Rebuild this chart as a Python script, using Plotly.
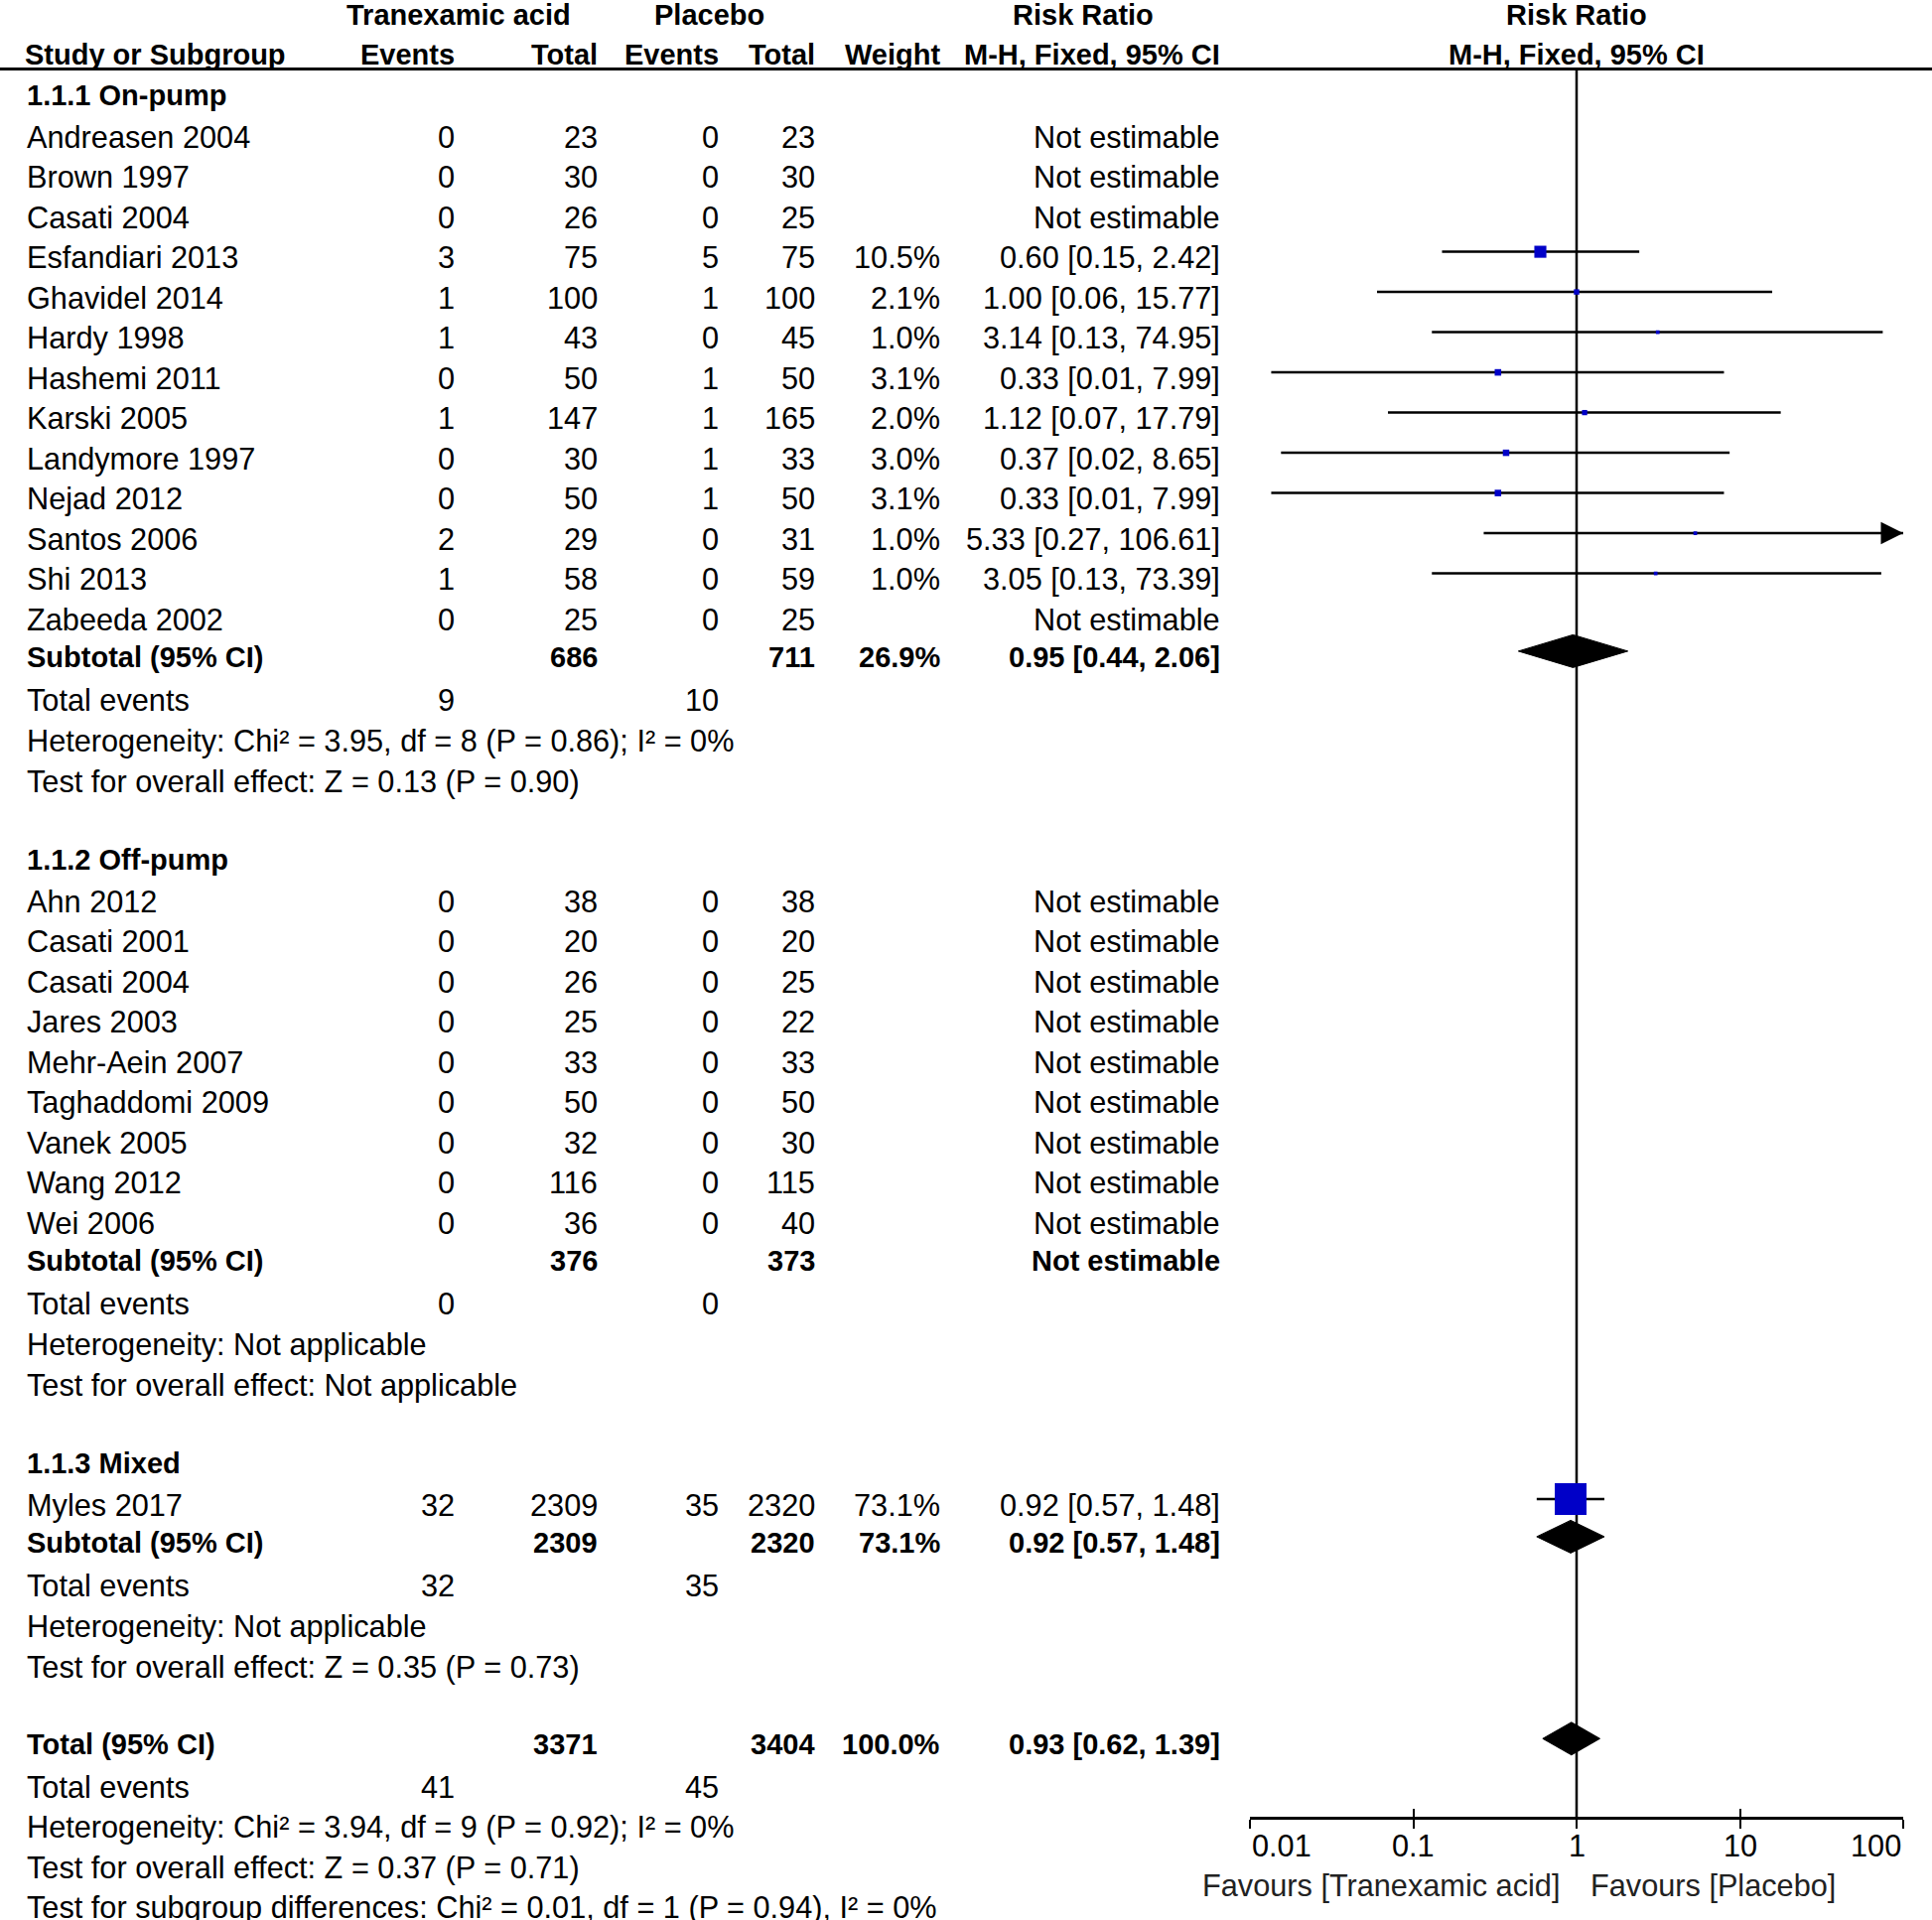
import math
import plotly.graph_objects as go

# ---------------- data ----------------
g1_title = "1.1.1 On-pump"
g1_studies = ["Andreasen 2004", "Brown 1997", "Casati 2004", "Esfandiari 2013", "Ghavidel 2014",
              "Hardy 1998", "Hashemi 2011", "Karski 2005", "Landymore 1997", "Nejad 2012",
              "Santos 2006", "Shi 2013", "Zabeeda 2002"]
g1_txa_events = [0, 0, 0, 3, 1, 1, 0, 1, 0, 0, 2, 1, 0]
g1_txa_total = [23, 30, 26, 75, 100, 43, 50, 147, 30, 50, 29, 58, 25]
g1_pl_events = [0, 0, 0, 5, 1, 0, 1, 1, 1, 1, 0, 0, 0]
g1_pl_total = [23, 30, 25, 75, 100, 45, 50, 165, 33, 50, 31, 59, 25]
g1_weight = [None, None, None, 10.5, 2.1, 1.0, 3.1, 2.0, 3.0, 3.1, 1.0, 1.0, None]
g1_rr = [None, None, None, 0.60, 1.00, 3.14, 0.33, 1.12, 0.37, 0.33, 5.33, 3.05, None]
g1_lo = [None, None, None, 0.15, 0.06, 0.13, 0.0135, 0.07, 0.0155, 0.0135, 0.27, 0.13, None]
g1_hi = [None, None, None, 2.42, 15.77, 74.95, 7.99, 17.79, 8.65, 7.99, 106.61, 73.39, None]
g1_sub_totals = [686, 711]
g1_sub_weight = 26.9
g1_sub_est = [0.95, 0.44, 2.06]
g1_events = [9, 10]
g1_het = "Heterogeneity: Chi² = 3.95, df = 8 (P = 0.86); I² = 0%"
g1_test = "Test for overall effect: Z = 0.13 (P = 0.90)"

g2_title = "1.1.2 Off-pump"
g2_studies = ["Ahn 2012", "Casati 2001", "Casati 2004", "Jares 2003", "Mehr-Aein 2007",
              "Taghaddomi 2009", "Vanek 2005", "Wang 2012", "Wei 2006"]
g2_txa_events = [0, 0, 0, 0, 0, 0, 0, 0, 0]
g2_txa_total = [38, 20, 26, 25, 33, 50, 32, 116, 36]
g2_pl_events = [0, 0, 0, 0, 0, 0, 0, 0, 0]
g2_pl_total = [38, 20, 25, 22, 33, 50, 30, 115, 40]
g2_weight = [None] * 9
g2_rr = [None] * 9
g2_lo = [None] * 9
g2_hi = [None] * 9
g2_sub_totals = [376, 373]
g2_sub_weight = None
g2_sub_est = None
g2_events = [0, 0]
g2_het = "Heterogeneity: Not applicable"
g2_test = "Test for overall effect: Not applicable"

g3_title = "1.1.3 Mixed"
g3_studies = ["Myles 2017"]
g3_txa_events = [32]
g3_txa_total = [2309]
g3_pl_events = [35]
g3_pl_total = [2320]
g3_weight = [73.1]
g3_rr = [0.92]
g3_lo = [0.57]
g3_hi = [1.48]
g3_sub_totals = [2309, 2320]
g3_sub_weight = 73.1
g3_sub_est = [0.92, 0.57, 1.48]
g3_events = [32, 35]
g3_het = "Heterogeneity: Not applicable"
g3_test = "Test for overall effect: Z = 0.35 (P = 0.73)"

total_totals = [3371, 3404]
total_weight = 100.0
total_est = [0.93, 0.62, 1.39]
total_events = [41, 45]
total_het = "Heterogeneity: Chi² = 3.94, df = 9 (P = 0.92); I² = 0%"
total_test = "Test for overall effect: Z = 0.37 (P = 0.71)"
subgroup_test = "Test for subgroup differences: Chi² = 0.01, df = 1 (P = 0.94), I² = 0%"

axis_ticks = [0.01, 0.1, 1, 10, 100]
axis_ticktext = ["0.01", "0.1", "1", "10", "100"]
favours_left = "Favours [Tranexamic acid]"
favours_right = "Favours [Placebo]"

groups = [
    dict(title=g1_title, studies=g1_studies, te=g1_txa_events, tt=g1_txa_total, pe=g1_pl_events,
         pt=g1_pl_total, w=g1_weight, rr=g1_rr, lo=g1_lo, hi=g1_hi, sub=g1_sub_totals,
         sw=g1_sub_weight, se=g1_sub_est, ev=g1_events, het=g1_het, test=g1_test),
    dict(title=g2_title, studies=g2_studies, te=g2_txa_events, tt=g2_txa_total, pe=g2_pl_events,
         pt=g2_pl_total, w=g2_weight, rr=g2_rr, lo=g2_lo, hi=g2_hi, sub=g2_sub_totals,
         sw=g2_sub_weight, se=g2_sub_est, ev=g2_events, het=g2_het, test=g2_test),
    dict(title=g3_title, studies=g3_studies, te=g3_txa_events, tt=g3_txa_total, pe=g3_pl_events,
         pt=g3_pl_total, w=g3_weight, rr=g3_rr, lo=g3_lo, hi=g3_hi, sub=g3_sub_totals,
         sw=g3_sub_weight, se=g3_sub_est, ev=g3_events, het=g3_het, test=g3_test),
]

# ---------------- layout constants ----------------
W, H = 1946, 1934
FONT = "Liberation Sans, Arial, sans-serif"
REG = 30.7
BOLD = 29
BLUE = "#0000C8"

COL_NAME = 24.5
COL_TE, COL_TT, COL_PE, COL_PT, COL_W, COL_RR = 460, 604, 726, 823, 949, 1231
TXA_CENTER, PL_CENTER, RR_CENTER = 462, 714, 1091

FOREST_L, FOREST_R = 1259, 1917
AXIS_Y = 1831
HEAD1_Y, HEAD2_Y, RULE_Y = 15, 54.6, 69.5
MARK_DY = -6
DIAMOND_H = 33
SQ_K = 3.74

anns = []


def txt(x, y, s, anchor="left", bold=False, color="#000000"):
    anns.append(dict(xref="x", yref="y", x=x, y=y, text=f"<b>{s}</b>" if bold else s,
                     xanchor=anchor, yanchor="middle", showarrow=False,
                     font=dict(family=FONT, size=BOLD if bold else REG, color=color)))


def fmt_est(e):
    return f"{e[0]:.2f} [{e[1]:.2f}, {e[2]:.2f}]"


# headers
txt(TXA_CENTER, HEAD1_Y, "Tranexamic acid", "center", True)
txt(PL_CENTER, HEAD1_Y, "Placebo", "center", True)
txt(RR_CENTER, HEAD1_Y, "Risk Ratio", "center", True)
txt(COL_NAME - 2, HEAD2_Y, "Study or Subgroup", "left", True)
txt(COL_TE, HEAD2_Y, "Events", "right", True)
txt(COL_TT, HEAD2_Y, "Total", "right", True)
txt(COL_PE, HEAD2_Y, "Events", "right", True)
txt(COL_PT, HEAD2_Y, "Total", "right", True)
txt(COL_W, HEAD2_Y, "Weight", "right", True)
txt(COL_RR, HEAD2_Y, "M-H, Fixed, 95% CI", "right", True)
for yy, s in [(HEAD1_Y, "Risk Ratio"), (HEAD2_Y, "M-H, Fixed, 95% CI")]:
    anns.append(dict(xref="x2", yref="y", x=0, y=yy, text=f"<b>{s}</b>", xanchor="center",
                     yanchor="middle", showarrow=False, font=dict(family=FONT, size=BOLD, color="#000")))

ci_x, ci_y = [], []
sq_x, sq_y, sq_s = [], [], []
diamonds = []
arrow_rows = []
x_max = max(axis_ticks)

y = 95.6
for gi, g in enumerate(groups):
    txt(COL_NAME, y, g["title"], bold=True)
    y += 42.5
    for i, name in enumerate(g["studies"]):
        if i > 0:
            y += 40.5
        txt(COL_NAME, y, name)
        txt(COL_TE, y, str(g["te"][i]), "right")
        txt(COL_TT, y, str(g["tt"][i]), "right")
        txt(COL_PE, y, str(g["pe"][i]), "right")
        txt(COL_PT, y, str(g["pt"][i]), "right")
        if g["rr"][i] is None:
            txt(COL_RR, y, "Not estimable", "right")
        else:
            txt(COL_W, y, f"{g['w'][i]:.1f}%", "right")
            txt(COL_RR, y, fmt_est([g["rr"][i], g["lo"][i], g["hi"][i]]), "right")
            my = y + MARK_DY
            ci_x += [g["lo"][i], g["hi"][i], None]
            ci_y += [my, my, None]
            sq_x.append(g["rr"][i])
            sq_y.append(my)
            sq_s.append(max(3.0, SQ_K * math.sqrt(g["w"][i])))
            if g["hi"][i] > x_max:
                arrow_rows.append(my)
    y += 37.8
    txt(COL_NAME, y, "Subtotal (95% CI)", bold=True)
    txt(COL_TT, y, str(g["sub"][0]), "right", True)
    txt(COL_PT, y, str(g["sub"][1]), "right", True)
    if g["se"] is None:
        txt(COL_RR, y, "Not estimable", "right", True)
    else:
        txt(COL_W, y, f"{g['sw']:.1f}%", "right", True)
        txt(COL_RR, y, fmt_est(g["se"]), "right", True)
        diamonds.append((g["se"], y + MARK_DY))
    y += 44
    txt(COL_NAME, y, "Total events")
    txt(COL_TE, y, str(g["ev"][0]), "right")
    txt(COL_PE, y, str(g["ev"][1]), "right")
    y += 40.2
    txt(COL_NAME, y, g["het"])
    y += 41
    txt(COL_NAME, y, g["test"])
    if gi < len(groups) - 1:
        y += 78.5

y += 78.2
txt(COL_NAME, y, "Total (95% CI)", bold=True)
txt(COL_TT, y, str(total_totals[0]), "right", True)
txt(COL_PT, y, str(total_totals[1]), "right", True)
txt(COL_W, y, f"{total_weight:.1f}%", "right", True)
txt(COL_RR, y, fmt_est(total_est), "right", True)
diamonds.append((total_est, y + MARK_DY))
y += 43.6
txt(COL_NAME, y, "Total events")
txt(COL_TE, y, str(total_events[0]), "right")
txt(COL_PE, y, str(total_events[1]), "right")
y += 39.6
txt(COL_NAME, y, total_het)
y += 41
txt(COL_NAME, y, total_test)
y += 39.7
txt(COL_NAME, y, subgroup_test)

# ---------------- traces ----------------
fig = go.Figure()
# reference line at RR = 1
fig.add_trace(go.Scatter(x=[1, 1], y=[RULE_Y, AXIS_Y], xaxis="x2", yaxis="y", mode="lines",
                         line=dict(color="#000", width=2.5), hoverinfo="skip"))
fig.add_trace(go.Scatter(x=ci_x, y=ci_y, xaxis="x2", yaxis="y", mode="lines",
                         line=dict(color="#000", width=2.5), hoverinfo="skip"))
fig.add_trace(go.Scatter(x=sq_x, y=sq_y, xaxis="x2", yaxis="y", mode="markers",
                         marker=dict(symbol="square", size=sq_s, color=BLUE, opacity=1,
                                     line=dict(width=0)),
                         hoverinfo="skip"))
for est, dy in diamonds:
    fig.add_trace(go.Scatter(x=[est[1], est[0], est[2], est[0], est[1]],
                             y=[dy, dy - DIAMOND_H / 2, dy, dy + DIAMOND_H / 2, dy],
                             xaxis="x2", yaxis="y", mode="lines", fill="toself",
                             fillcolor="#000", line=dict(color="#000", width=1), hoverinfo="skip"))
# dummy trace so the upward-tick axis is drawn
fig.add_trace(go.Scatter(x=[1], y=[AXIS_Y], xaxis="x3", yaxis="y", mode="markers",
                         marker=dict(opacity=0), hoverinfo="skip"))

for ay_ in arrow_rows:
    anns.append(dict(xref="x2", yref="y", x=math.log10(x_max), y=ay_, ax=-16, ay=0,
                     text="", showarrow=True, arrowhead=2, arrowsize=1.8, arrowwidth=2.5,
                     arrowcolor="#000"))

# tick labels
anchors = ["left"] + ["center"] * (len(axis_ticks) - 2) + ["right"]
for v, t, a in zip(axis_ticks, axis_ticktext, anchors):
    anns.append(dict(xref="x2", yref="y", x=math.log10(v), y=1859.5, text=t, xanchor=a,
                     yanchor="middle", showarrow=False, font=dict(family=FONT, size=REG, color="#000")))
anns.append(dict(xref="x2", yref="y", x=0, y=1899, text=favours_left, xanchor="right", xshift=-15,
                 yanchor="middle", showarrow=False, font=dict(family=FONT, size=REG, color="#222")))
anns.append(dict(xref="x2", yref="y", x=0, y=1899, text=favours_right, xanchor="left", xshift=12,
                 yanchor="middle", showarrow=False, font=dict(family=FONT, size=REG, color="#222")))

shapes = [dict(type="line", xref="x", yref="y", x0=0, x1=W, y0=RULE_Y, y1=RULE_Y,
               line=dict(color="#000", width=3))]

axis_pos = 1 - AXIS_Y / H
dom = [FOREST_L / W, FOREST_R / W]
fig.update_layout(
    width=W, height=H, margin=dict(l=0, r=0, t=0, b=0, pad=0),
    paper_bgcolor="white", plot_bgcolor="rgba(0,0,0,0)", showlegend=False,
    xaxis=dict(range=[0, W], domain=[0, 1], visible=False, fixedrange=True),
    yaxis=dict(range=[H, 0], domain=[0, 1], visible=False, fixedrange=True),
    xaxis2=dict(type="log", range=[-2, 2], domain=dom, anchor="free", position=axis_pos,
                showline=True, linecolor="#000", linewidth=2.5, ticks="outside", ticklen=9,
                tickwidth=2, tickcolor="#000", tickmode="array", tickvals=axis_ticks,
                showticklabels=False, showgrid=False, zeroline=False, fixedrange=True),
    xaxis3=dict(type="log", range=[-2, 2], domain=dom, anchor="free", position=axis_pos,
                overlaying="x2", showline=False, ticks="inside", ticklen=9, tickwidth=2,
                tickcolor="#000", tickmode="array", tickvals=axis_ticks,
                showticklabels=False, showgrid=False, zeroline=False, fixedrange=True),
    annotations=anns, shapes=shapes,
)

fig.write_html("out.html", config={"displayModeBar": False},
               post_script="document.body.style.margin='0';")
